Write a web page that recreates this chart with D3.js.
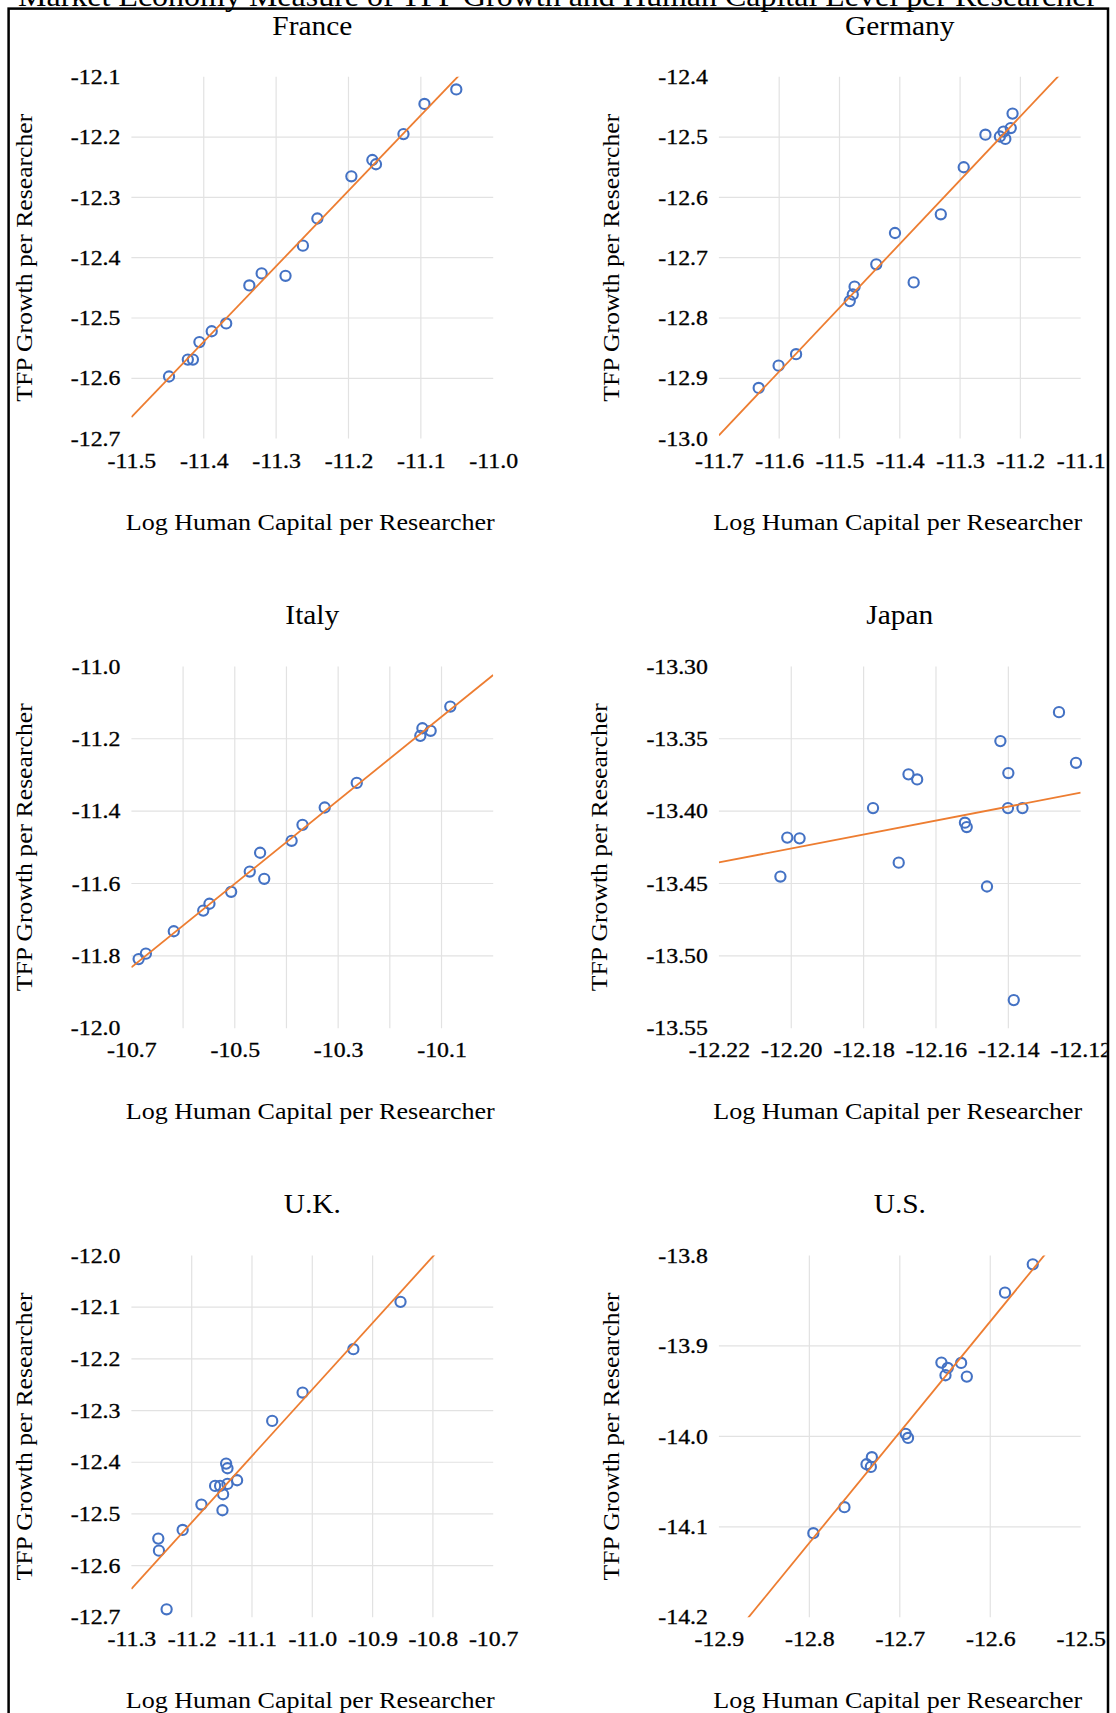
<!DOCTYPE html>
<html>
<head>
<meta charset="utf-8">
<script src="https://cdn.jsdelivr.net/npm/d3@7"></script>
<style>
html,body{margin:0;padding:0;background:#fff;}
svg{display:block;}
</style>
</head>
<body>
<script>
// ---------------- DATA ----------------
const mainTitle = "Market Economy Measure of TFP Growth and Human Capital Level per Researcher";
const countries = ["France", "Germany", "Italy", "Japan", "U.K.", "U.S."];
const xAxisTitle = "Log Human Capital per Researcher";
const yAxisTitle = "TFP Growth per Researcher";

const franceX = [-11.448, -11.422, -11.415, -11.406, -11.389, -11.369, -11.337, -11.320, -11.287, -11.263, -11.243, -11.196, -11.167, -11.162, -11.124, -11.095, -11.051];
const franceY = [-12.597, -12.569, -12.569, -12.540, -12.522, -12.509, -12.446, -12.426, -12.430, -12.380, -12.335, -12.265, -12.238, -12.245, -12.195, -12.145, -12.121];

const germanyX = [-11.634, -11.601, -11.572, -11.483, -11.478, -11.475, -11.439, -11.408, -11.377, -11.332, -11.294, -11.258, -11.234, -11.228, -11.225, -11.216, -11.213];
const germanyY = [-12.916, -12.879, -12.860, -12.772, -12.761, -12.748, -12.711, -12.659, -12.741, -12.628, -12.550, -12.496, -12.499, -12.491, -12.503, -12.485, -12.461];

const italyX = [-10.686, -10.672, -10.618, -10.561, -10.549, -10.507, -10.471, -10.451, -10.443, -10.390, -10.369, -10.326, -10.264, -10.141, -10.137, -10.121, -10.083];
const italyY = [-11.809, -11.794, -11.732, -11.675, -11.656, -11.623, -11.567, -11.515, -11.587, -11.482, -11.438, -11.390, -11.322, -11.192, -11.171, -11.178, -11.111];

const japanX = [-12.2030, -12.2011, -12.1977, -12.1774, -12.1703, -12.1676, -12.1652, -12.1520, -12.1515, -12.1459, -12.1422, -12.1400, -12.1401, -12.1385, -12.1361, -12.1260, -12.1213];
const japanY = [-13.4452, -13.4183, -13.4188, -13.3979, -13.4356, -13.3746, -13.3781, -13.4080, -13.4110, -13.4521, -13.3516, -13.3737, -13.3979, -13.5306, -13.3979, -13.3316, -13.3666];

const ukX = [-11.2554, -11.2543, -11.2416, -11.2150, -11.1839, -11.1612, -11.1529, -11.1490, -11.1479, -11.1429, -11.1407, -11.1407, -11.1247, -11.0665, -11.0161, -10.9319, -10.8537];
const ukY = [-12.5477, -12.5710, -12.6845, -12.5310, -12.4819, -12.4458, -12.4458, -12.4929, -12.4619, -12.4026, -12.4116, -12.4419, -12.4348, -12.3200, -12.2652, -12.1813, -12.0897];

const usX = [-12.7956, -12.7612, -12.7368, -12.7309, -12.7320, -12.6935, -12.6909, -12.6540, -12.6470, -12.6495, -12.6322, -12.6259, -12.5837, -12.5530];
const usY = [-14.1070, -14.0783, -14.0308, -14.0230, -14.0337, -13.9972, -14.0017, -13.9184, -13.9243, -13.9324, -13.9188, -13.9339, -13.8411, -13.8098];

// tick values (gridlines) and labelled ticks
const franceXTicks = [-11.5, -11.4, -11.3, -11.2, -11.1, -11.0];
const franceYTicks = [-12.7, -12.6, -12.5, -12.4, -12.3, -12.2, -12.1];
const germanyXTicks = [-11.7, -11.6, -11.5, -11.4, -11.3, -11.2, -11.1];
const germanyYTicks = [-13.0, -12.9, -12.8, -12.7, -12.6, -12.5, -12.4];
const italyXTicks = [-10.7, -10.6, -10.5, -10.4, -10.3, -10.2, -10.1, -10.0];
const italyXLabels = [-10.7, -10.5, -10.3, -10.1];
const italyYTicks = [-12.0, -11.8, -11.6, -11.4, -11.2, -11.0];
const japanXTicks = [-12.22, -12.20, -12.18, -12.16, -12.14, -12.12];
const japanYTicks = [-13.55, -13.50, -13.45, -13.40, -13.35, -13.30];
const ukXTicks = [-11.3, -11.2, -11.1, -11.0, -10.9, -10.8, -10.7];
const ukYTicks = [-12.7, -12.6, -12.5, -12.4, -12.3, -12.2, -12.1, -12.0];
const usXTicks = [-12.9, -12.8, -12.7, -12.6, -12.5];
const usYTicks = [-14.2, -14.1, -14.0, -13.9, -13.8];
const tickDecimals = [1, 1, 1, 2, 1, 1];

// ---------------- BUILD ----------------
const panels = [
  {name: countries[0], xs: franceX, ys: franceY, xt: franceXTicks, xl: franceXTicks, yt: franceYTicks},
  {name: countries[1], xs: germanyX, ys: germanyY, xt: germanyXTicks, xl: germanyXTicks, yt: germanyYTicks},
  {name: countries[2], xs: italyX, ys: italyY, xt: italyXTicks, xl: italyXLabels, yt: italyYTicks},
  {name: countries[3], xs: japanX, ys: japanY, xt: japanXTicks, xl: japanXTicks, yt: japanYTicks},
  {name: countries[4], xs: ukX, ys: ukY, xt: ukXTicks, xl: ukXTicks, yt: ukYTicks},
  {name: countries[5], xs: usX, ys: usY, xt: usXTicks, xl: usXTicks, yt: usYTicks}
];

const W = 1116, H = 1713;
const FONT = '"Liberation Serif","Times New Roman",serif';
const colLeft = [131.4, 718.9];
const rowTop = [76.8, 666.4, 1255.5];
const pw = 361.8, ph = 361.8;
const BLUE = "#4472C4", ORANGE = "#ED7D31", GRID = "#e2e2e2";
const STRETCH = 1.19; // reference glyphs are horizontally stretched

const svg = d3.select("body").append("svg")
  .attr("width", W).attr("height", H)
  .attr("font-family", FONT);

svg.append("rect").attr("width", W).attr("height", H).attr("fill", "#fff");

const defs = svg.append("defs");
defs.append("clipPath").attr("id", "frameClip")
  .append("rect").attr("x", 0).attr("y", 0).attr("width", 1106.8).attr("height", H);

// main title (partly cut off at the top, as in the reference)
svg.append("text")
  .attr("x", 557.5).attr("y", 6.4)
  .attr("text-anchor", "middle")
  .attr("font-size", 30)
  .attr("fill", "#000")
  .attr("textLength", 1079)
  .attr("lengthAdjust", "spacingAndGlyphs")
  .text(mainTitle);

const content = svg.append("g").attr("clip-path", "url(#frameClip)");

function ols(xs, ys) {
  const mx = d3.mean(xs), my = d3.mean(ys);
  let sxy = 0, sxx = 0;
  xs.forEach((xv, i) => { sxy += (xv - mx) * (ys[i] - my); sxx += (xv - mx) * (xv - mx); });
  const b = sxy / sxx;
  return {b: b, a: my - b * mx};
}

function stretch(sel, f) {
  sel.each(function () {
    const w = this.getComputedTextLength();
    d3.select(this).attr("textLength", w * f).attr("lengthAdjust", "spacingAndGlyphs");
  });
}

panels.forEach((p, i) => {
  const col = i % 2, row = Math.floor(i / 2);
  const dec = tickDecimals[i];
  const g = content.append("g").attr("transform", `translate(${colLeft[col]},${rowTop[row]})`);

  const x = d3.scaleLinear().domain([p.xt[0], p.xt[p.xt.length - 1]]).range([0, pw]);
  const y = d3.scaleLinear().domain([p.yt[0], p.yt[p.yt.length - 1]]).range([ph, 0]);

  defs.append("clipPath").attr("id", "plotClip" + i)
    .append("rect").attr("x", 0).attr("y", 0).attr("width", pw).attr("height", ph);

  // gridlines (interior only)
  g.append("g").selectAll("line.v").data(p.xt.slice(1, -1)).join("line")
    .attr("x1", d => x(d)).attr("x2", d => x(d))
    .attr("y1", 0).attr("y2", ph)
    .attr("stroke", GRID).attr("stroke-width", 1.2);
  g.append("g").selectAll("line.h").data(p.yt.slice(1, -1)).join("line")
    .attr("y1", d => y(d)).attr("y2", d => y(d))
    .attr("x1", 0).attr("x2", pw)
    .attr("stroke", GRID).attr("stroke-width", 1.2);

  // x axis labels
  const xa = g.append("g").attr("transform", `translate(0,${ph})`)
    .call(d3.axisBottom(x).tickValues(p.xl).tickFormat(d => d.toFixed(dec)).tickSize(0));
  xa.select(".domain").remove();
  xa.attr("font-family", FONT).attr("font-size", 20);
  xa.selectAll("text").attr("y", 29).attr("dy", null)
    .attr("fill", "#000").attr("stroke", "#000").attr("stroke-width", 0.3);
  stretch(xa.selectAll("text"), STRETCH);

  // y axis labels
  const ya = g.append("g")
    .call(d3.axisLeft(y).tickValues(p.yt).tickFormat(d => d.toFixed(dec)).tickSize(0));
  ya.select(".domain").remove();
  ya.attr("font-family", FONT).attr("font-size", 20);
  ya.selectAll("text").attr("x", -11).attr("dy", null).attr("y", 6.6)
    .attr("fill", "#000").attr("stroke", "#000").attr("stroke-width", 0.3);
  stretch(ya.selectAll("text"), STRETCH);

  // points
  g.append("g").selectAll("circle").data(p.xs.map((v, k) => [v, p.ys[k]])).join("circle")
    .attr("cx", d => x(d[0])).attr("cy", d => y(d[1]))
    .attr("r", 5.1)
    .attr("fill", "none").attr("stroke", BLUE).attr("stroke-width", 2.1);

  // linear trendline (least squares from the points), clipped to plot
  const fit = ols(p.xs, p.ys);
  const x0 = x.domain()[0], x1 = x.domain()[1];
  g.append("line")
    .attr("clip-path", `url(#plotClip${i})`)
    .attr("x1", x(x0)).attr("y1", y(fit.a + fit.b * x0))
    .attr("x2", x(x1)).attr("y2", y(fit.a + fit.b * x1))
    .attr("stroke", ORANGE).attr("stroke-width", 1.8);

  // panel title
  g.append("text")
    .attr("x", pw / 2).attr("y", -42.3)
    .attr("text-anchor", "middle").attr("font-size", 28).attr("fill", "#000")
    .text(p.name)
    .call(s => stretch(s, 1.05));

  // x axis title
  g.append("text")
    .attr("x", pw / 2 - 2).attr("y", ph + 91)
    .attr("text-anchor", "middle").attr("font-size", 24).attr("fill", "#000")
    .attr("textLength", 369).attr("lengthAdjust", "spacingAndGlyphs")
    .text(xAxisTitle);

  // y axis title, placed left of the tick labels
  const bb = ya.node().getBBox();
  const tx = bb.x - 39;
  g.append("text")
    .attr("transform", `translate(${tx},${ph / 2}) rotate(-90)`)
    .attr("text-anchor", "middle").attr("font-size", 24).attr("fill", "#000")
    .attr("textLength", 288).attr("lengthAdjust", "spacingAndGlyphs")
    .text(yAxisTitle);
});

// outer frame
svg.append("rect")
  .attr("x", 8.6).attr("y", 8.6)
  .attr("width", 1099.4).attr("height", 1800)
  .attr("fill", "none").attr("stroke", "#000").attr("stroke-width", 2.5);
</script>
</body>
</html>
